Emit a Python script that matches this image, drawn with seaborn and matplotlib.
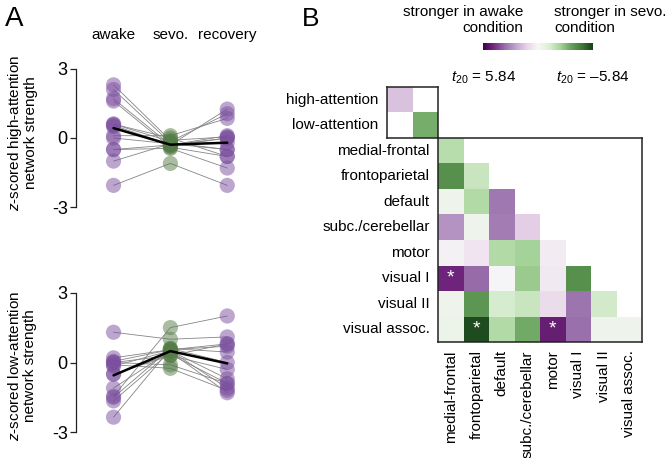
import numpy as np
import pandas as pd
import matplotlib
matplotlib.use("Agg")
import matplotlib.pyplot as plt
import seaborn as sns

# panel A: z-scored network strength per subject
conditions = ['awake', 'sevo.', 'recovery']
awake_hi = [2.3, 2.1, 1.7, 1.6, 0.6, 0.5, 0.1, 0.0, 0.55, -0.5, -0.5, -1.0, -2.05, 0.6]
sevo_hi = [-0.1, -0.2, -0.3, -0.4, -0.15, -0.35, 0.1, -0.25, -0.3, -0.45, -0.3, -0.25, -1.1, 0.0]
recovery_hi = [0.05, -0.5, 1.25, -0.8, 1.05, 0.0, 0.85, -0.2, 0.1, -1.3, 0.0, -0.5, -2.05, -0.8]

awake_lo = [1.3, 0.2, 0.05, 0.0, -0.15, -0.5, -1.1, -1.45, -1.65, -2.35, 0.0, -0.1, -0.5, -1.5]
sevo_lo = [1.0, 0.55, 0.55, 0.3, 0.5, 0.35, 0.5, 1.5, 0.45, 0.6, -0.1, -0.25, 0.3, 0.6]
recovery_lo = [1.1, 0.8, 0.7, -0.3, -0.7, -0.9, -1.1, 2.0, -1.3, 0.45, -0.9, -1.2, 0.8, 0.0]

# panel B: t values (positive = stronger in awake)
att_nets = ['high-attention', 'low-attention']
att_t = [[1.6, np.nan],
         [np.nan, -3.2]]
nets = ['medial-frontal', 'frontoparietal', 'default', 'subc./cerebellar',
        'motor', 'visual I', 'visual II', 'visual assoc.']
net_t = [
    [-2.0],
    [-4.0, -1.6],
    [-0.4, -2.1, 3.3],
    [2.7, -0.4, 3.2, 1.3],
    [0.2, 0.6, -2.1, -2.4, 0.4],
    [4.8, 3.6, 0.1, -2.6, 0.5, -4.0],
    [-0.4, -3.8, -1.3, -1.6, 0.9, 3.4, -1.4],
    [-0.5, -5.6, -2.1, -3.3, 5.0, 3.5, -0.4, -0.4],
]
signif = [(5, 0), (7, 1), (7, 4)]
t_max = 5.84

sns.set_theme(style='white')
plt.rcParams['font.family'] = ['Liberation Sans', 'DejaVu Sans']
plt.rcParams['mathtext.fontset'] = 'custom'
plt.rcParams['mathtext.rm'] = 'Liberation Sans'
plt.rcParams['mathtext.it'] = 'Liberation Sans:italic'
for key in ['text.color', 'axes.labelcolor', 'xtick.color', 'ytick.color']:
    plt.rcParams[key] = 'black'

# green (sevo) -> white -> purple (awake), muted like the original figure
cmap = sns.blend_palette(['#173f1a', '#3f7a38', '#67a15c', '#a8d59c', '#dcefd5', '#f7f7f7',
                          '#e7d4e8', '#c2a5cf', '#9970ab', '#762a83', '#40004b'], as_cmap=True)

fig = plt.figure(figsize=(6.67, 4.58), dpi=100)
W, H = 667.0, 458.0


def px_axes(l, t, r, b):
    return fig.add_axes([l / W, 1 - b / H, (r - l) / W, (b - t) / H])


palette = {'awake': '#7b4f9e', 'sevo.': '#567d48', 'recovery': '#7b4f9e'}


def strength_panel(ax, aw, sv, rc):
    n = len(aw)
    df = pd.DataFrame({
        'subject': np.tile(np.arange(n), 3),
        'x': np.repeat([0, 1, 2], n),
        'cond': np.repeat(conditions, n),
        'value': np.concatenate([aw, sv, rc]),
    })
    sns.lineplot(data=df, x='x', y='value', units='subject', estimator=None,
                 color='#858585', lw=0.6, ax=ax, zorder=1)
    sns.scatterplot(data=df, x='x', y='value', hue='cond', palette=palette,
                    s=120, alpha=0.5, edgecolor='none', legend=False, ax=ax, zorder=2)
    sns.lineplot(data=df, x='x', y='value', estimator='mean', errorbar=None,
                 color='black', lw=1.8, ax=ax, zorder=3)
    ax.set_xlim(-0.66, 2.4)
    ax.set_ylim(-3.03, 3.03)
    ax.set_yticks([-3, 0, 3], ['-3', '0', '3'])
    for s in ['top', 'right', 'bottom']:
        ax.spines[s].set_visible(False)
    ax.spines['left'].set_bounds(-3, 3)
    ax.spines['left'].set_color('#222222')
    ax.spines['left'].set_linewidth(0.9)
    ax.tick_params(axis='y', left=True, length=4, width=0.9, color='#222222',
                   labelsize=13, pad=2)
    ax.set_xlabel('')
    ax.set_ylabel('')


ax1 = px_axes(76, 68, 250, 208)
strength_panel(ax1, awake_hi, sevo_hi, recovery_hi)
ax1.xaxis.tick_top()
ax1.set_xticks([0, 1, 2], conditions)
ax1.tick_params(axis='x', top=True, length=0, labelsize=11, pad=19)

ax2 = px_axes(76, 292, 250, 433)
strength_panel(ax2, awake_lo, sevo_lo, recovery_lo)
ax2.set_xticks([])

fig.text(22 / W, 1 - 133 / H, '$z$-scored high-attention\nnetwork strength', rotation=90,
         ha='center', va='center', fontsize=11, linespacing=1.05)
fig.text(22 / W, 1 - 366 / H, '$z$-scored low-attention\nnetwork strength', rotation=90,
         ha='center', va='center', fontsize=11, linespacing=1.05)

# panel B heatmaps
ax_att = px_axes(387, 87, 438, 138)
ax_net = px_axes(438, 138, 642, 342)
cax = px_axes(483, 43, 593, 50)

att_df = pd.DataFrame(att_t, index=att_nets, columns=att_nets)
sns.heatmap(att_df, cmap=cmap, vmin=-t_max, vmax=t_max, cbar=False,
            xticklabels=False, yticklabels=att_nets, ax=ax_att)

n = len(nets)
net_mat = np.full((n, n), np.nan)
for i, row in enumerate(net_t):
    net_mat[i, :len(row)] = row
stars = np.full((n, n), '', dtype=object)
for i, j in signif:
    stars[i, j] = '*'
net_df = pd.DataFrame(net_mat, index=nets, columns=nets)
sns.heatmap(net_df, cmap=cmap, vmin=-t_max, vmax=t_max,
            annot=stars, fmt='', annot_kws=dict(color='white', fontsize=14, va='center'),
            cbar_ax=cax, cbar_kws=dict(orientation='horizontal'),
            xticklabels=nets, yticklabels=nets, ax=ax_net)

for ax in (ax_att, ax_net):
    for s in ax.spines.values():
        s.set_visible(True)
        s.set_color('#222222')
        s.set_linewidth(1.1)
    ax.tick_params(length=0, labelsize=11, pad=6)
ax_att.set_yticklabels(att_nets, rotation=0)
ax_net.set_yticklabels(nets, rotation=0)
ax_net.set_xticklabels(nets, rotation=90)

cbar = ax_net.collections[0].colorbar
cbar.outline.set_visible(False)
cax.invert_xaxis()
cax.set_xticks([])
cax.set_yticks([])

fig.text(523 / W, 1 - 5 / H, 'stronger in awake\ncondition', ha='right', va='top',
         multialignment='right', fontsize=11, linespacing=1.2)
fig.text(554 / W, 1 - 5 / H, 'stronger in sevo.\ncondition', ha='left', va='top',
         multialignment='left', fontsize=11, linespacing=1.2)
fig.text(484 / W, 1 - 78 / H, '$t_{20}$ = 5.84', ha='center', va='center', fontsize=11)
fig.text(593 / W, 1 - 78 / H, '$t_{20}$ = \u20135.84', ha='center', va='center', fontsize=11)

fig.text(5 / W, 1 - 6 / H, 'A', fontsize=20, va='top')
fig.text(302 / W, 1 - 7 / H, 'B', fontsize=19, va='top')

fig.savefig('out.png', dpi=100)
